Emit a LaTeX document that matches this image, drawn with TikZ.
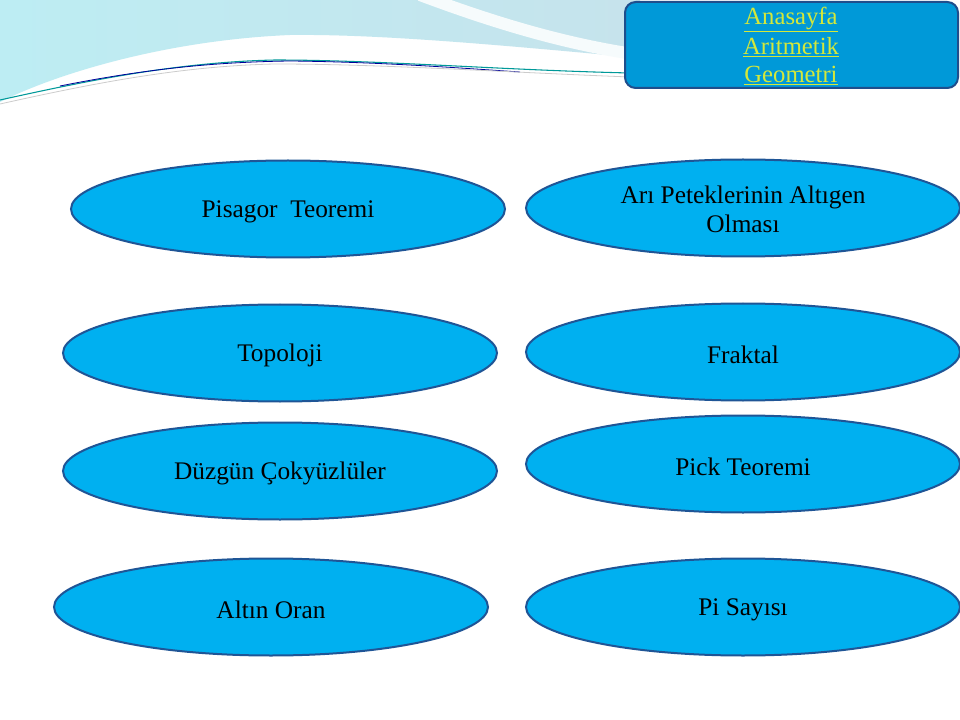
\documentclass[tikz,border=0pt]{standalone}
\usepackage{fontspec}
\setmainfont{Liberation Serif}
\usetikzlibrary{shapes.geometric}
\definecolor{ellfill}{HTML}{00B0F0}
\definecolor{ellline}{HTML}{1F5596}
\definecolor{boxfill}{HTML}{0099D8}
\definecolor{boxline}{HTML}{1F4E8C}
\definecolor{linkcol}{HTML}{D4E83A}
\definecolor{bgblue}{HTML}{C6E3EC}
\definecolor{bgcyan}{HTML}{BDEDF3}
\tikzset{
  oval/.style={ellipse, fill=ellfill, draw=ellline, line width=1.5pt,
    minimum width=325.5pt, minimum height=72.75pt, inner sep=0pt},
  ovtext/.style={font=\fontsize{19}{22}\selectfont, text=black, align=center, inner sep=0pt},
  navbox/.style={rounded corners=8pt, fill=boxfill, draw=boxline, line width=1.5pt},
  navtext/.style={font=\fontsize{18.5}{22}\selectfont, text=linkcol},
}
\newcommand{\ulink}[1]{\underline{#1}}
\begin{document}
\begin{tikzpicture}[x=0.75pt,y=-0.75pt]
\useasboundingbox (0,0) rectangle (960,720);
\fill[white] (0,0) rectangle (960,720);
% background swoosh
\shade[left color=bgcyan, right color=bgblue]
  (0,0) -- (640,0) -- (640,58)
  .. controls (500,45) and (380,34) .. (290,35)
  .. controls (170,40) and (60,72) .. (0,102) -- cycle;
\draw[white!85!bgblue, line width=9pt] (420,-5) .. controls (500,25) and (570,45) .. (640,55);
\draw[white, line width=5pt] (0,106) .. controls (80,74) and (180,52) .. (290,50)
  .. controls (400,50) and (520,62) .. (640,70);
\draw[teal!80!cyan, line width=0.8pt] (0,100) .. controls (90,80) and (180,62) .. (275,60)
  .. controls (380,60) and (500,70) .. (630,73);
\draw[blue!60!black, line width=0.6pt] (60,86) .. controls (150,68) and (220,62) .. (290,61)
  .. controls (380,62) and (460,68) .. (520,72);
\draw[gray!40, line width=0.6pt] (0,104) .. controls (90,84) and (180,66) .. (275,64)
  .. controls (380,64) and (500,72) .. (630,77);
% nav box
\draw[navbox] (625,2) rectangle (958,88);
\node[navtext] (n1) at (791,19.5) {\ulink{Anasayfa}};
\node[navtext] (n2) at (791,47.5) {\ulink{Aritmetik}};
\node[navtext] (n3) at (791,75.5) {\ulink{Geometri}};
% ovals
\node[oval] (pis) at (288,209) {};
\node[oval] (ari) at (743,208) {};
\node[oval] (top) at (280,353) {};
\node[oval] (fra) at (743,352) {};
\node[oval] (duz) at (280,471) {};
\node[oval] (pic) at (743,464) {};
\node[oval] (alt) at (271,607) {};
\node[oval] (pis2) at (743,607) {};
% texts
\node[ovtext] (pist) at ([yshift=-2pt]pis) {Pisagor\ \ Teoremi};
\node[ovtext] (arit) at ([yshift=-1pt]ari) {Arı Peteklerinin Altıgen\\Olması};
\node[ovtext] (topt) at ([yshift=-2pt]top) {Topoloji};
\node[ovtext] (frat) at ([yshift=-2pt]fra) {Fraktal};
\node[ovtext] (duzt) at ([yshift=-2pt]duz) {Düzgün Çokyüzlüler};
\node[ovtext] (pict) at ([yshift=-2pt]pic) {Pick Teoremi};
\node[ovtext] (altt) at ([yshift=-2pt]alt) {Altın Oran};
\node[ovtext] (pis2t) at ([yshift=-2pt]pis2) {Pi Sayısı};
\end{tikzpicture}
\end{document}
